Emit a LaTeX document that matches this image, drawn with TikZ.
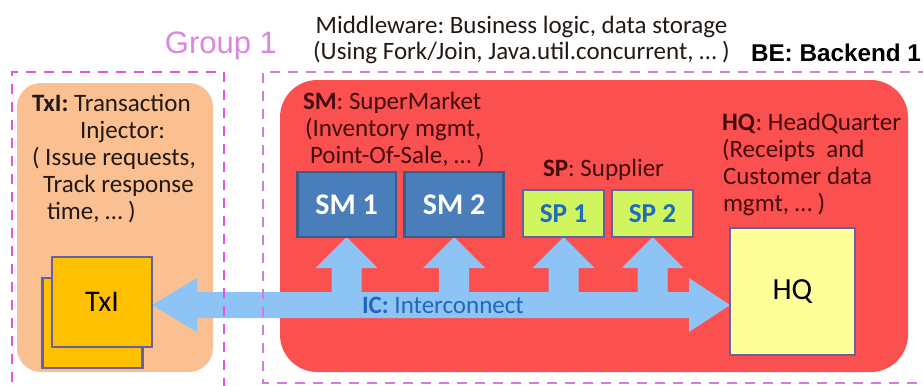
\documentclass[tikz,border=0pt]{standalone}
\usepackage{fontspec}
\setmainfont{Carlito}
\newfontfamily\arialf{Liberation Sans}
\usetikzlibrary{calc,backgrounds}
\frenchspacing
\definecolor{orangebg}{RGB}{250,192,145}
\definecolor{redbg}{RGB}{250,80,80}
\definecolor{icblue}{RGB}{142,196,245}
\definecolor{smfill}{RGB}{74,126,187}
\definecolor{smline}{RGB}{56,93,138}
\definecolor{spfill}{RGB}{208,245,95}
\definecolor{boxline}{RGB}{104,96,165}
\definecolor{sptext}{RGB}{30,108,192}
\definecolor{hqfill}{RGB}{255,255,153}
\definecolor{txifill}{RGB}{255,192,0}
\definecolor{grpcol}{RGB}{225,85,225}
\definecolor{becol}{RGB}{208,125,222}
\definecolor{grptext}{RGB}{218,135,224}
\definecolor{darktext}{RGB}{35,25,20}
\definecolor{maroon}{RGB}{66,12,12}
\definecolor{ictext}{RGB}{30,105,190}
\begin{document}
\begin{tikzpicture}[x=0.75pt,y=-0.75pt,
  every node/.style={inner sep=0pt,outer sep=0pt},
  bodytext/.style={font=\fontsize{18.75pt}{20.25pt}\selectfont,align=left,anchor=west},
  groupline/.style={line width=1.9pt,dash pattern=on 7.5pt off 6pt},
  smbox/.style={draw=smline,fill=smfill,line width=2pt,minimum width=74pt,minimum height=48.75pt,
    text=white,font=\fontsize{22.5pt}{24pt}\selectfont\bfseries},
  spbox/.style={draw=boxline,fill=spfill,line width=2pt,minimum width=60.75pt,minimum height=35.25pt,
    text=sptext,font=\fontsize{20.5pt}{22pt}\selectfont\bfseries},
  txibox/.style={draw=boxline,fill=txifill,line width=2.2pt,minimum width=75pt,minimum height=67.5pt,
    font=\fontsize{22.5pt}{24pt}\selectfont},
  hqbox/.style={draw=boxline,fill=hqfill,line width=2.2pt,minimum width=93.75pt,minimum height=95.25pt,
    font=\fontsize{23pt}{24pt}\selectfont}]
\useasboundingbox (0,0) rectangle (923,385);

% boxes and labels
\node[txibox] (txiback) at (92.5,323) {};
\node[txibox] (txi) at (102,302) {TxI};
\node[smbox] (sm1) at (346.5,204.5) {SM 1};
\node[smbox] (sm2) at (454,204.5) {SM 2};
\node[spbox] (sp1) at (563.5,213.5) {SP 1};
\node[spbox] (sp2) at (652.5,213.5) {SP 2};
\node[hqbox] (hq) at (792.5,291.5) {HQ};
\node[bodytext,text=ictext] (ic) at (362,305) {\textbf{IC:} Interconnect};

\begin{pgfonlayer}{background}
  \fill[orangebg,rounded corners=18pt] (17,83) rectangle (213,372);
  \fill[redbg,rounded corners=28pt] (280,80) rectangle (908,372);
  \coordinate (L) at (txi.east |- ic);
  \coordinate (R) at (hq.west |- ic);
  \fill[icblue] (L) -- ++(45,-27) -- ++(0,14)
    -- ($(sm1.south)+(-15,55)$) -- ++(0,-24) -- ++(-16,0) -- (sm1.south) -- ++(31,31) -- ++(-16,0) -- ++(0,24)
    -- ($(sm2.south)+(-15,55)$) -- ++(0,-24) -- ++(-16,0) -- (sm2.south) -- ++(31,31) -- ++(-16,0) -- ++(0,24)
    -- ($(sp1.south)+(-15,55)$) -- ++(0,-24) -- ++(-16,0) -- (sp1.south) -- ++(31,31) -- ++(-16,0) -- ++(0,24)
    -- ($(sp2.south)+(-15,55)$) -- ++(0,-24) -- ++(-16,0) -- (sp2.south) -- ++(31,31) -- ++(-16,0) -- ++(0,24)
    -- ($(R)+(-41,-13)$) -- ++(0,-14) -- (R) -- ++(-41,27) -- ++(0,-14)
    -- ($(L)+(45,13)$) -- ++(0,14) -- cycle;
\end{pgfonlayer}

% dashed group frames
\draw[groupline,grpcol] (12,400) -- (12,72) -- (224,72) -- (224,400);
\draw[groupline,becol] (935,383) -- (263,383) -- (263,72) -- (935,72);

% texts
\node[font=\arialf\fontsize{23.25pt}{24pt}\selectfont,text=grptext] (grp) at (221,46) {Group 1};
\node[font=\fontsize{18.75pt}{19.5pt}\selectfont,align=center,text=darktext] (mw) at (521.5,40)
  {Middleware: Business logic, data storage\\(Using Fork/Join, Java.util.concurrent, … )};
\node[font=\arialf\bfseries\fontsize{18.2pt}{20pt}\selectfont,anchor=west] (be) at (751,53) {BE: Backend 1};
\node[bodytext,text=darktext] (txitext) at (32,158.5)
  {\textbf{TxI:} Transaction\\ \hspace*{36pt}Injector:\\( Issue requests,\\ \hspace*{8.25pt}Track response\\ \hspace*{11.25pt}time, … )};
\node[bodytext,text=maroon] (smtext) at (303,130)
  {\textbf{SM}: SuperMarket\\ \hspace*{1.5pt}(Inventory mgmt,\\ \hspace*{5.25pt}Point-Of-Sale, … )};
\node[bodytext,text=maroon] (sptextn) at (543,170) {\textbf{SP}: Supplier};
\node[bodytext,text=maroon] (hqtext) at (722,164.5)
  {\textbf{HQ}: HeadQuarter\\(Receipts\ \ and\\ \hspace*{0.75pt}Customer data\\ \hspace*{0.75pt}mgmt, … )};
\end{tikzpicture}
\end{document}
